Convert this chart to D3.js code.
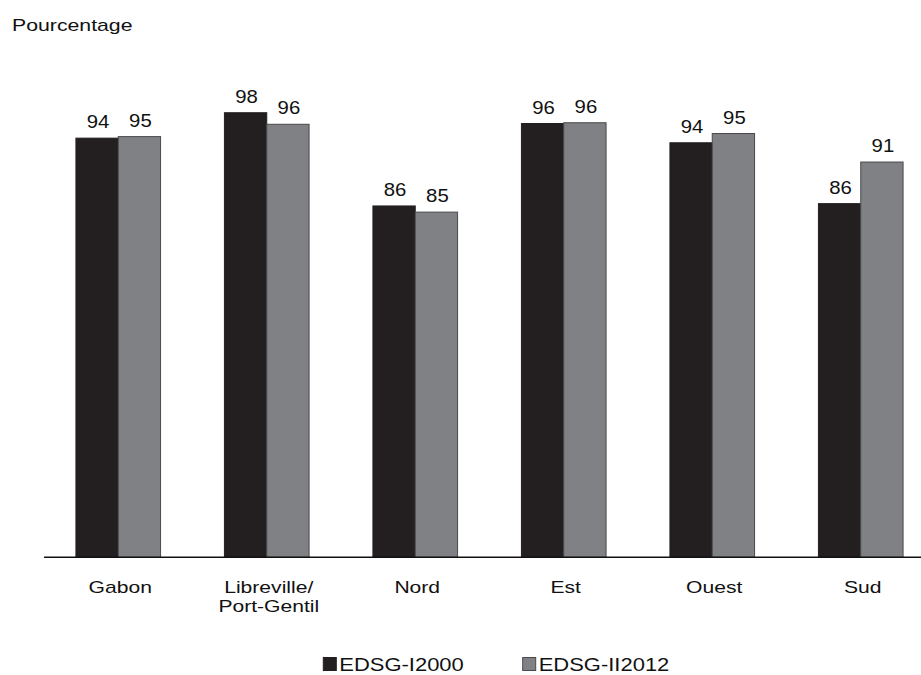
<!DOCTYPE html>
<html>
<head>
<meta charset="utf-8">
<script src="https://cdn.jsdelivr.net/npm/d3@7"></script>
<style>
  html, body { margin: 0; padding: 0; background: #fff; }
  svg { display: block; font-family: "Liberation Sans", Arial, sans-serif; }
</style>
</head>
<body>
<svg id="chart" width="921" height="675"></svg>
<script>
const categories = ["Gabon", "Libreville/\nPort-Gentil", "Nord", "Est", "Ouest", "Sud"];
const seriesNames = ["EDSG-I 2000", "EDSG-II 2012"];
const legendLabels = ["EDSG-I2000", "EDSG-II2012"];
const edsg2000 = [94.4, 97.7, 85.6, 96.3, 93.8, 85.9];
const edsg2012 = [94.6, 96.2, 84.8, 96.4, 95.0, 91.3];
const yDomain = [40, 100];
const yTitle = "Pourcentage";

const colors = ["#231f20", "#808184"];
const strokes = ["#231f20", "#4a4a4c"];

const svg = d3.select("#chart");
const baseY = 557.3;

const x0 = d3.scaleBand().domain(categories).range([44, 935])
  .paddingInner(0.43).paddingOuter(0.215);
const x1 = d3.scaleBand().domain(seriesNames).range([0, x0.bandwidth()]);
const y = d3.scaleLinear().domain(yDomain).range([baseY, 95]);

function stretch(sel, k) {
  sel.each(function() {
    const len = this.getComputedTextLength();
    d3.select(this).attr("textLength", len * k).attr("lengthAdjust", "spacingAndGlyphs");
  });
}

const rows = categories.map((c, i) => ({ cat: c, vals: [edsg2000[i], edsg2012[i]] }));

const g = svg.append("g");
const groups = g.selectAll("g.grp").data(rows).join("g")
  .attr("class", "grp")
  .attr("transform", d => `translate(${x0(d.cat)},0)`);

groups.selectAll("rect").data(d => d.vals.map((v, j) => ({ v, j })))
  .join("rect")
  .attr("x", d => x1(seriesNames[d.j]))
  .attr("y", d => y(d.v))
  .attr("width", x1.bandwidth())
  .attr("height", d => baseY - y(d.v))
  .attr("fill", d => colors[d.j])
  .attr("stroke", d => strokes[d.j])
  .attr("stroke-width", 1);

groups.selectAll("text.val").data(d => d.vals.map((v, j) => ({ v, j })))
  .join("text")
  .attr("class", "val")
  .attr("x", d => x1(seriesNames[d.j]) + x1.bandwidth() / 2 + 1)
  .attr("y", d => y(d.v) - 10)
  .attr("text-anchor", "middle")
  .attr("font-size", 18.5)
  .attr("fill", "#111")
  .text(d => d3.format(".0f")(d.v))
  .call(stretch, 1.1);

// x axis line
svg.append("line")
  .attr("x1", 44).attr("x2", 921)
  .attr("y1", baseY).attr("y2", baseY)
  .attr("stroke", "#111").attr("stroke-width", 1.6);

// category labels
const catText = svg.append("g").selectAll("text").data(categories).join("text")
  .attr("x", d => x0(d) + x0.bandwidth() / 2 + 2)
  .attr("y", 593)
  .attr("text-anchor", "middle")
  .attr("font-size", 17)
  .attr("fill", "#111");
catText.each(function(d) {
  const lines = d.split("\n");
  const t = d3.select(this);
  lines.forEach((ln, i) => {
    t.append("tspan")
      .attr("x", x0(d) + x0.bandwidth() / 2 + 2)
      .attr("dy", i === 0 ? 0 : 19)
      .text(ln);
  });
});
catText.selectAll("tspan").each(function() {
  const len = this.getComputedTextLength();
  d3.select(this).attr("textLength", len * 1.24).attr("lengthAdjust", "spacingAndGlyphs");
});

// y title
svg.append("text")
  .attr("x", 12).attr("y", 31)
  .attr("font-size", 17)
  .attr("fill", "#111")
  .text(yTitle)
  .call(stretch, 1.25);

// legend
const legX = [323.3, 522.7];
const leg = svg.append("g").selectAll("g").data(legendLabels).join("g")
  .attr("transform", (d, i) => `translate(${legX[i]},657.5)`);
leg.append("rect")
  .attr("width", 13).attr("height", 13)
  .attr("fill", (d, i) => colors[i])
  .attr("stroke", (d, i) => strokes[i]).attr("stroke-width", 1);
leg.append("text")
  .attr("x", 16).attr("y", 13.3)
  .attr("font-size", 18)
  .attr("fill", "#111")
  .text(d => d)
  .call(stretch, 1.22);
</script>
</body>
</html>
